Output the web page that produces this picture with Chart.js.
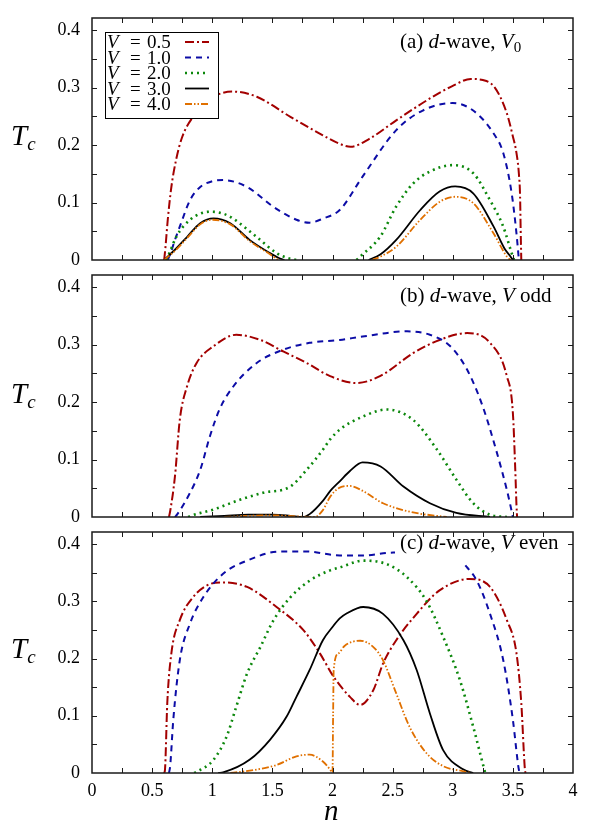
<!DOCTYPE html>
<html lang="en">
<head>
<meta charset="UTF-8">
<title>Tc versus n, d-wave</title>
<script src="https://cdn.jsdelivr.net/npm/chart.js"></script>
<style>
  body { margin: 0; background: #fff; font-family: "Liberation Serif", serif; }
  #wrap { position: relative; width: 590px; height: 825px; overflow: hidden; }
  canvas { position: absolute; left: 0; }
  .tc { position: absolute; left: 11px; font-size: 29px; font-style: italic; line-height: 1; color: #000; }
  .tc span { position: relative; top: 5px; font-size: 19px; }
  .xt { position: absolute; left: 324px; top: 796px; font-size: 29px; font-style: italic; line-height: 1; color: #000; }
</style>
</head>
<body>
<div id="wrap">
  <canvas id="pa" width="590" height="264" style="top:6px"></canvas>
  <canvas id="pb" width="590" height="264" style="top:263px"></canvas>
  <canvas id="pc" width="590" height="305" style="top:520px"></canvas>
  <div class="tc" style="top:121px">T<span>c</span></div>
  <div class="tc" style="top:379px">T<span>c</span></div>
  <div class="tc" style="top:634px">T<span>c</span></div>
  <div class="xt">n</div>
</div>
<script>
// axes
const xTicks = [0, 0.5, 1, 1.5, 2, 2.5, 3, 3.5, 4];
const xTickLabels = ['0', '0.5', '1', '1.5', '2', '2.5', '3', '3.5', '4'];
const yTicks = [0, 0.1, 0.2, 0.3, 0.4];
const yTickLabels = ['0', '0.1', '0.2', '0.3', '0.4'];
const xMarks = [0.25, 0.5, 0.75, 1, 1.25, 1.5, 1.75, 2, 2.25, 2.5, 2.75, 3, 3.25, 3.5, 3.75];
const yMarks = [0.05, 0.1, 0.15, 0.2, 0.25, 0.3, 0.35, 0.4];
const vLabels = ['0.5', '1.0', '2.0', '3.0', '4.0'];

// (a) d-wave, V0
const a05n = [0.60, 0.61, 0.63, 0.66, 0.70, 0.75, 0.84, 0.98, 1.17, 1.37, 1.65, 1.92, 2.05, 2.15, 2.30, 2.53, 2.81, 3.00, 3.15, 3.25, 3.35, 3.45, 3.50, 3.53, 3.55, 3.56, 3.565, 3.57];
const a05t = [0, 0.02, 0.07, 0.127, 0.175, 0.214, 0.249, 0.28, 0.293, 0.284, 0.249, 0.217, 0.203, 0.197, 0.21, 0.243, 0.281, 0.303, 0.315, 0.313, 0.300, 0.255, 0.215, 0.186, 0.15, 0.11, 0.05, 0];
const a10n = [0.63, 0.65, 0.69, 0.73, 0.815, 0.90, 1.00, 1.09, 1.29, 1.505, 1.70, 1.81, 1.92, 2.06, 2.25, 2.53, 2.75, 3.00, 3.17, 3.34, 3.42, 3.49, 3.53, 3.55];
const a10t = [0, 0.01, 0.035, 0.058, 0.104, 0.127, 0.137, 0.139, 0.127, 0.093, 0.070, 0.065, 0.072, 0.087, 0.145, 0.226, 0.260, 0.273, 0.260, 0.220, 0.186, 0.116, 0.046, 0];
const a20n = [0.62, 0.65, 0.70, 0.815, 0.98, 1.05, 1.15, 1.37, 1.535, 1.62, 1.70, 1.95, 2.20, 2.23, 2.395, 2.53, 2.67, 2.81, 3.00, 3.17, 3.31, 3.42, 3.49, 3.51];
const a20t = [0, 0.015, 0.04, 0.07, 0.084, 0.083, 0.075, 0.04, 0.012, 0.004, 0, null, 0, 0.006, 0.04, 0.093, 0.133, 0.154, 0.165, 0.151, 0.104, 0.058, 0.012, 0];
const a30n = [0.60, 0.70, 0.79, 0.90, 1.01, 1.15, 1.31, 1.48, 1.55, 1.60, 1.95, 2.30, 2.40, 2.53, 2.73, 2.89, 3.02, 3.17, 3.34, 3.43, 3.48, 3.50];
const a30t = [0, 0.02, 0.04, 0.064, 0.0725, 0.064, 0.035, 0.012, 0.004, 0, null, 0, 0.01, 0.035, 0.087, 0.119, 0.128, 0.116, 0.058, 0.02, 0.006, 0];
const a40n = [0.60, 0.70, 0.79, 0.90, 1.00, 1.15, 1.31, 1.48, 1.55, 1.95, 2.33, 2.40, 2.53, 2.73, 2.89, 3.02, 3.17, 3.34, 3.45, 3.48];
const a40t = [0, 0.018, 0.038, 0.062, 0.070, 0.062, 0.033, 0.010, 0, null, 0, 0.006, 0.023, 0.070, 0.101, 0.110, 0.099, 0.046, 0.006, 0];

// (b) d-wave, V odd
const b05n = [0.64, 0.65, 0.69, 0.73, 0.79, 0.87, 1.01, 1.20, 1.40, 1.59, 1.785, 1.98, 2.20, 2.395, 2.67, 2.89, 3.12, 3.31, 3.45, 3.50, 3.52, 3.53, 3.535];
const b05t = [0, 0.01, 0.071, 0.169, 0.227, 0.268, 0.297, 0.317, 0.308, 0.288, 0.268, 0.245, 0.233, 0.245, 0.285, 0.308, 0.320, 0.303, 0.245, 0.181, 0.082, 0.02, 0];
const b10n = [0.69, 0.71, 0.815, 0.90, 0.98, 1.06, 1.175, 1.37, 1.59, 1.81, 2.06, 2.25, 2.62, 2.81, 2.98, 3.12, 3.25, 3.36, 3.45, 3.49, 3.50];
const b10t = [0, 0.005, 0.042, 0.082, 0.14, 0.187, 0.227, 0.268, 0.291, 0.303, 0.308, 0.314, 0.323, 0.317, 0.297, 0.256, 0.192, 0.117, 0.047, 0.01, 0];
const b20n = [0.80, 0.82, 1.01, 1.23, 1.42, 1.65, 1.785, 1.92, 1.98, 2.06, 2.255, 2.45, 2.67, 2.87, 3.03, 3.17, 3.31, 3.45];
const b20t = [0, 0.002, 0.013, 0.030, 0.042, 0.053, 0.082, 0.117, 0.135, 0.152, 0.175, 0.187, 0.169, 0.117, 0.065, 0.024, 0.004, 0];
const b30n = [0.90, 1.10, 1.30, 1.50, 1.65, 1.75, 1.81, 1.92, 1.98, 2.06, 2.145, 2.25, 2.40, 2.59, 2.81, 3.03, 3.31];
const b30t = [0, 0.002, 0.004, 0.004, 0.002, 0, 0.005, 0.028, 0.045, 0.062, 0.08, 0.095, 0.088, 0.053, 0.024, 0.007, 0];
const b40n = [1.10, 1.30, 1.50, 1.70, 1.85, 1.92, 1.98, 2.05, 2.145, 2.255, 2.42, 2.67, 2.95];
const b40t = [0, 0.002, 0.003, 0.001, 0, 0.012, 0.035, 0.05, 0.054, 0.045, 0.024, 0.008, 0];

// (c) d-wave, V even
const c05n = [0.60, 0.607, 0.626, 0.66, 0.73, 0.84, 0.98, 1.09, 1.29, 1.535, 1.76, 1.895, 2.01, 2.145, 2.23, 2.34, 2.42, 2.53, 2.70, 2.89, 3.14, 3.31, 3.45, 3.53, 3.57, 3.60, 3.605];
const c05t = [0, 0.006, 0.122, 0.209, 0.267, 0.307, 0.33, 0.333, 0.325, 0.29, 0.249, 0.209, 0.168, 0.133, 0.119, 0.145, 0.191, 0.232, 0.278, 0.319, 0.339, 0.325, 0.267, 0.209, 0.122, 0.006, 0];
const c10n = [0.64, 0.65, 0.676, 0.73, 0.815, 0.925, 1.09, 1.29, 1.565, 1.785, 2.06, 2.255, 2.505, 2.75, 3.00, 3.08, 3.12, 3.20, 3.31, 3.42, 3.50, 3.545, 3.555];
const c10t = [0, 0.012, 0.093, 0.197, 0.261, 0.307, 0.348, 0.371, 0.387, 0.387, 0.38, 0.38, 0.385, 0.383, 0.375, 0.368, 0.359, 0.336, 0.278, 0.197, 0.093, 0.012, 0];
const c20n = [0.85, 0.87, 1.01, 1.12, 1.20, 1.29, 1.40, 1.51, 1.65, 1.81, 1.98, 2.06, 2.255, 2.45, 2.62, 2.78, 2.92, 3.06, 3.17, 3.255, 3.27];
const c20t = [0, 0.002, 0.023, 0.064, 0.116, 0.174, 0.22, 0.267, 0.307, 0.336, 0.354, 0.359, 0.371, 0.365, 0.342, 0.301, 0.238, 0.162, 0.081, 0.012, 0];
const c30n = [1.05, 1.09, 1.31, 1.48, 1.62, 1.70, 1.81, 1.92, 2.00, 2.06, 2.12, 2.255, 2.42, 2.59, 2.70, 2.81, 2.92, 3.09, 3.17];
const c30t = [0, 0.001, 0.023, 0.058, 0.099, 0.133, 0.18, 0.232, 0.255, 0.27, 0.279, 0.29, 0.278, 0.232, 0.18, 0.104, 0.04, 0.006, 0];
const c40n = [1.15, 1.37, 1.535, 1.70, 1.81, 1.92, 1.98, 2.00, 2.005, 2.01, 2.05, 2.10, 2.23, 2.34, 2.42, 2.53, 2.64, 2.78, 2.92, 3.09, 3.15];
const c40t = [0, 0.006, 0.014, 0.029, 0.032, 0.02, 0.006, 0, 0.1, 0.18, 0.209, 0.222, 0.231, 0.22, 0.197, 0.139, 0.081, 0.035, 0.012, 0.003, 0];

const styles = [
  { color: '#a30000', dash: [9, 3, 2, 3], width: 2 },
  { color: '#0c0ca6', dash: [6, 5], width: 2 },
  { color: '#0b870b', dash: [2, 4], width: 2.6 },
  { color: '#000000', dash: [], width: 1.8 },
  { color: '#e07000', dash: [7, 2, 1.5, 2, 1.5, 2], width: 1.8 }
];
const FONT = '"Liberation Serif", serif';

function pts(n, t) { return n.map((x, i) => ({ x: x, y: t[i] })); }

// rich text: segments of [text, style] with style '' | 'i' | 'sub'
function segFont(s, size) {
  return (s[1] === 'i' ? 'italic ' : '') + (s[1] === 'sub' ? Math.round(size * 0.7) : size) + 'px ' + FONT;
}
function richWidth(ctx, segs, size) {
  let w = 0;
  segs.forEach(s => { ctx.font = segFont(s, size); w += ctx.measureText(s[0]).width; });
  return w;
}
function drawRich(ctx, segs, x, y, size) {
  ctx.textBaseline = 'alphabetic';
  ctx.textAlign = 'left';
  segs.forEach(s => {
    ctx.font = segFont(s, size);
    ctx.fillText(s[0], x, s[1] === 'sub' ? y + 4 : y);
    x += ctx.measureText(s[0]).width;
  });
}

function decoPlugin(label, labelY, boxBelow, withLegend) {
  return {
    id: 'deco',
    afterDatasetsDraw(chart) {
      const { ctx, chartArea: a, scales: { x, y } } = chart;
      ctx.save();
      // panel label on a white patch
      const lx = 400, ly = a.top + labelY, size = 21;
      const w = richWidth(ctx, label, size);
      const top = Math.max(a.top + 1, ly - 16);
      ctx.fillStyle = '#fff';
      ctx.fillRect(lx - 5, top, Math.min(w + 8, a.right - lx + 4), ly + boxBelow - top);
      ctx.fillStyle = '#000';
      drawRich(ctx, label, lx, ly, size);

      if (withLegend) {
        const bx = a.left + 13, by = a.top + 14;
        ctx.fillStyle = '#fff';
        ctx.fillRect(bx, by, 113, 86);
        ctx.strokeStyle = '#000';
        ctx.lineWidth = 1;
        ctx.setLineDash([]);
        ctx.strokeRect(bx + 0.5, by + 0.5, 113, 86);
        chart.data.datasets.forEach((ds, i) => {
          const base = a.top + 30 + i * 15.5;
          ctx.fillStyle = '#000';
          ctx.font = 'italic 19px ' + FONT;
          ctx.fillText('V', a.left + 15, base);
          ctx.font = '19px ' + FONT;
          ctx.fillText('=', a.left + 38, base);
          ctx.fillText(vLabels[i], a.left + 55, base);
          ctx.strokeStyle = ds.borderColor;
          ctx.lineWidth = ds.borderWidth;
          ctx.setLineDash(ds.borderDash);
          ctx.beginPath();
          ctx.moveTo(a.left + 93, base - 6);
          ctx.lineTo(a.left + 117, base - 6);
          ctx.stroke();
        });
        ctx.setLineDash([]);
      }

      // inward ticks on all sides, then the frame
      ctx.strokeStyle = '#1a1a1a';
      ctx.lineWidth = 1;
      ctx.setLineDash([]);
      ctx.beginPath();
      xMarks.forEach(v => {
        const p = Math.round(x.getPixelForValue(v)) + 0.5;
        ctx.moveTo(p, a.bottom); ctx.lineTo(p, a.bottom - 5);
        ctx.moveTo(p, a.top); ctx.lineTo(p, a.top + 5);
      });
      yMarks.forEach(v => {
        const p = Math.round(y.getPixelForValue(v)) + 0.5;
        ctx.moveTo(a.left, p); ctx.lineTo(a.left + 5, p);
        ctx.moveTo(a.right, p); ctx.lineTo(a.right - 5, p);
      });
      ctx.stroke();
      ctx.lineWidth = 1.5;
      ctx.strokeRect(a.left, a.top, a.right - a.left, a.bottom - a.top);
      ctx.restore();
    }
  };
}

function noPad(s) { s.paddingTop = 0; s.paddingBottom = 0; s.paddingLeft = 0; s.paddingRight = 0; }

function makePanel(id, series, label, labelY, boxBelow, showX, xHeight, withLegend) {
  return new Chart(document.getElementById(id), {
    type: 'line',
    data: {
      datasets: series.map((s, i) => ({
        label: 'V = ' + vLabels[i],
        data: pts(s[0], s[1]),
        borderColor: styles[i].color,
        borderDash: styles[i].dash,
        borderWidth: styles[i].width,
        pointRadius: 0,
        fill: false,
        spanGaps: false,
        cubicInterpolationMode: 'monotone',
        order: 4 - i
      }))
    },
    options: {
      responsive: false,
      animation: false,
      devicePixelRatio: 1,
      layout: { padding: { left: 0, right: 17, top: 12, bottom: 0 } },
      plugins: { legend: { display: false }, tooltip: { enabled: false } },
      scales: {
        x: {
          type: 'linear', min: 0, max: 4,
          grid: { display: false, drawTicks: false },
          border: { display: false },
          afterBuildTicks: s => { s.ticks = xTicks.map(v => ({ value: v })); },
          ticks: {
            display: showX, autoSkip: false, maxRotation: 0, padding: 7,
            color: '#000', font: { family: FONT, size: 18 },
            callback: (v, i) => xTickLabels[i]
          },
          afterFit: s => { s.height = xHeight; noPad(s); }
        },
        y: {
          type: 'linear', min: 0, max: 0.421,
          grid: { display: false, drawTicks: false },
          border: { display: false },
          afterBuildTicks: s => { s.ticks = yTicks.map(v => ({ value: v })); },
          ticks: {
            padding: 12, color: '#000', font: { family: FONT, size: 18 },
            callback: (v, i) => yTickLabels[i]
          },
          afterFit: s => { s.width = 92; noPad(s); }
        }
      }
    },
    plugins: [decoPlugin(label, labelY, boxBelow, withLegend)]
  });
}

makePanel('pa', [[a05n, a05t], [a10n, a10t], [a20n, a20t], [a30n, a30t], [a40n, a40t]],
  [['(a) ', ''], ['d', 'i'], ['-wave, ', ''], ['V', 'i'], ['0', 'sub']], 30, 5, false, 10, true);
makePanel('pb', [[b05n, b05t], [b10n, b10t], [b20n, b20t], [b30n, b30t], [b40n, b40t]],
  [['(b) ', ''], ['d', 'i'], ['-wave, ', ''], ['V', 'i'], [' odd', '']], 26.5, 5, false, 10, false);
makePanel('pc', [[c05n, c05t], [c10n, c10t], [c20n, c20t], [c30n, c30t], [c40n, c40t]],
  [['(c) ', ''], ['d', 'i'], ['-wave, ', ''], ['V', 'i'], [' even', '']], 17, 15, true, 52, false);
</script>
</body>
</html>
